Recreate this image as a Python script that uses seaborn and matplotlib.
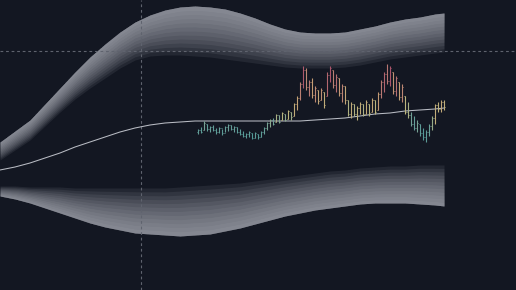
import numpy as np
import pandas as pd
import matplotlib
matplotlib.use("Agg")
import matplotlib.pyplot as plt
from matplotlib.colors import LinearSegmentedColormap, Normalize
import seaborn as sns

# ---------------- data ----------------
curve_x = [0, 5, 10, 15, 20, 25, 30, 35, 40, 45, 50, 55, 60, 65, 70, 75, 80, 85,
           90, 95, 100, 105, 110, 115, 120, 125, 130, 135, 140, 145, 148]
upper_outer = [148, 159, 170, 186, 202, 218, 233, 246, 258, 268, 275, 280, 283, 284, 283, 281,
               277, 272, 266, 261, 258, 257, 257, 258, 261, 264, 268, 271, 273, 276, 277]
upper_inner = [130, 140, 150, 164, 178, 191, 202, 212, 222, 230, 234, 235, 235, 234, 233, 231,
               229, 227, 225, 223, 222, 222, 222, 223, 225, 228, 231, 233, 235, 237, 238]
center = [120, 123, 127, 132, 137, 143, 148, 153, 158, 162, 165, 167, 168, 169, 169, 169,
          169, 169, 169, 169, 169, 170, 171, 172, 174, 176, 177, 179, 180, 181, 182]
lower_inner = [104, 104, 103, 103, 103, 102, 102, 102, 102, 102, 102, 102, 103, 104, 105, 106,
               107, 109, 111, 113, 115, 117, 119, 120, 122, 123, 124, 124, 125, 125, 125]
lower_outer = [94, 91, 87, 82, 77, 72, 67, 63, 60, 57, 56, 55, 54, 55, 56, 59,
               62, 66, 70, 74, 77, 80, 82, 84, 86, 87, 87, 87, 86, 85, 84]

bar_start = 66
highs = [161, 163, 169, 166, 164, 165, 162, 163, 161, 164, 166, 165, 164, 163, 161, 159, 157, 159,
         157, 158, 156, 159, 163, 168, 171, 172, 176, 175, 178, 176, 180, 178, 187, 194, 208, 224,
         222, 210, 212, 204, 200, 202, 198, 218, 224, 220, 216, 212, 206, 204, 190, 188, 186, 184,
         188, 186, 190, 186, 192, 190, 198, 210, 218, 226, 224, 218, 214, 208, 206, 194, 188, 178,
         174, 170, 166, 162, 160, 166, 174, 186, 188, 190, 190]
lows = [156, 157, 160, 159, 158, 159, 156, 157, 155, 158, 159, 160, 158, 157, 155, 153, 152, 153,
        151, 152, 151, 153, 156, 160, 163, 165, 168, 167, 170, 169, 171, 170, 174, 180, 190, 202,
        200, 194, 192, 188, 186, 190, 182, 194, 208, 202, 198, 194, 188, 186, 174, 172, 174, 170,
        176, 174, 176, 174, 178, 176, 180, 192, 198, 206, 204, 196, 194, 190, 188, 176, 172, 164,
        160, 158, 154, 150, 148, 154, 160, 166, 178, 178, 180]
opens = [158, 160, 160, 166, 161, 163, 160, 158, 162, 157, 163, 165, 161, 163, 158, 156, 154, 156,
         157, 152, 156, 153, 158, 162, 167, 170, 168, 175, 170, 176, 171, 178, 174, 186, 192, 206,
         220, 203, 208, 195, 200, 190, 198, 194, 215, 220, 205, 212, 197, 204, 190, 176, 186, 176,
         182, 186, 176, 186, 178, 190, 180, 196, 208, 216, 209, 218, 199, 208, 193, 194, 178, 175,
         166, 162, 166, 157, 153, 158, 164, 172, 185, 181, 188]
closes = [160, 158, 167, 161, 163, 160, 158, 162, 157, 163, 165, 161, 163, 158, 156, 154, 156, 158,
          152, 157, 153, 158, 162, 167, 170, 166, 175, 168, 177, 170, 179, 173, 186, 192, 206, 220,
          203, 208, 195, 202, 189, 200, 185, 215, 222, 205, 213, 197, 204, 190, 176, 186, 176, 182,
          186, 176, 188, 177, 190, 178, 196, 208, 216, 209, 222, 199, 212, 193, 203, 178, 175, 166,
          162, 167, 157, 153, 158, 164, 172, 185, 181, 188, 183]

# ---------------- style ----------------
BG = "#131722"
sns.set_theme(style="dark", rc={"axes.facecolor": BG, "figure.facecolor": BG})

fig = plt.figure(figsize=(5.16, 2.90), dpi=100)
ax = fig.add_axes([0, 0, 1, 1])
ax.set_facecolor(BG)

cx = np.array(curve_x, dtype=float)
uo, ui = np.array(upper_outer, float), np.array(upper_inner, float)
lo, li = np.array(lower_outer, float), np.array(lower_inner, float)

# gradient bands: stacked translucent layers, lightest at outer edge
N = 12
band_col = "#b4b7c0"
for k in range(1, N + 1):
    f = k / N
    ax.fill_between(cx, uo, uo + (ui - uo) * f, color=band_col, alpha=0.1, lw=0)
    ax.fill_between(cx, lo, lo + (li - lo) * f, color=band_col, alpha=0.1, lw=0)

# crosshair
ax.axvline(47, color="#5f636e", lw=0.8, ls=(0, (2.5, 2.5)), zorder=1)
ax.axhline(239, color="#5f636e", lw=0.8, ls=(0, (2.5, 2.5)), zorder=1)

# center line
df = pd.DataFrame({"x": curve_x, "y": center})
sns.lineplot(data=df, x="x", y="y", ax=ax, color="#b9bcc4", lw=0.75, zorder=3)

# OHLC bars
cmap = LinearSegmentedColormap.from_list(
    "b", [(0.0, "#4f9897"), (0.2, "#6a9f98"), (0.38, "#bdb57c"),
          (0.6, "#c49f74"), (0.8, "#b87672"), (1.0, "#a94f6a")])
norm = Normalize(150, 224)
bx = np.arange(bar_start, bar_start + len(highs))
cols = [cmap(norm(c)) for c in closes]
ax.vlines(bx, lows, highs, colors=cols, lw=0.8, zorder=4)
ax.hlines(opens, bx - 0.45, bx, colors=cols, lw=0.7, zorder=4)
ax.hlines(closes, bx, bx + 0.45, colors=cols, lw=0.7, zorder=4)

ax.set_xlim(0, 172)
ax.set_ylim(0, 290)
ax.set_axis_off()
fig.savefig("out.png", dpi=100, facecolor=BG)
